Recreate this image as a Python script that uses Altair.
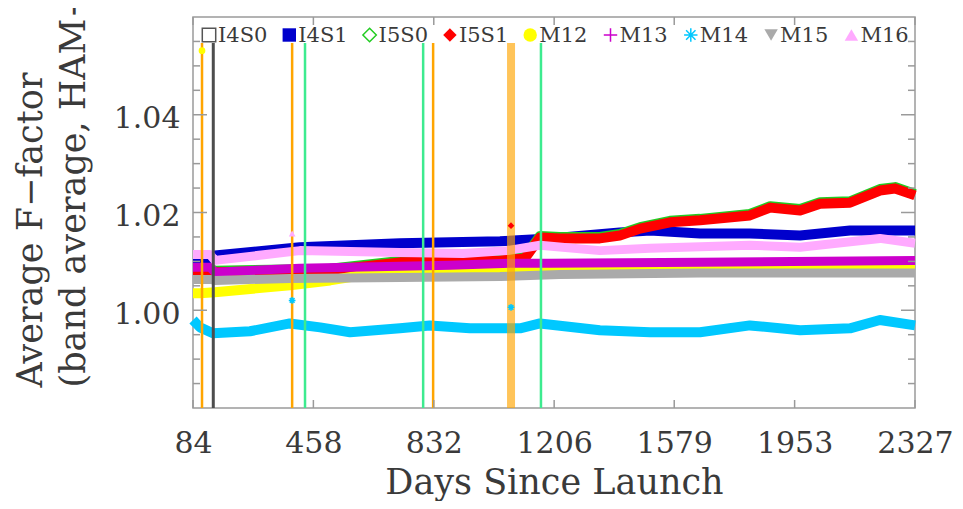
import altair as alt
import pandas as pd

W, H = 722, 391

# ---------------- data ----------------
x_ticks = [84, 458, 832, 1206, 1579, 1953, 2327]
y_ticks = [1.00, 1.02, 1.04]
y_minor = [0.985, 0.99, 0.995, 1.005, 1.01, 1.015, 1.025, 1.03, 1.035, 1.045, 1.05, 1.055]

names = ["I4S0", "I4S1", "I5S0", "I5S1", "M12", "M13", "M14", "M15", "M16"]
colors = ["#555555", "#0000CC", "#22CC22", "#FF0000", "#FFFF00", "#CC00CC", "#00C8FF", "#AAAAAA", "#FFAAFF"]

i4s1_days = [84, 137, 152, 416, 727, 1038, 1193, 1410, 1504, 1659, 1814, 1970, 2125, 2327]
i4s1_vals = [1.0098, 1.0098, 1.0112, 1.0129, 1.0137, 1.0141, 1.0147, 1.0159, 1.0163, 1.0157, 1.0157, 1.0153, 1.0163, 1.0163]

i5_days = [84, 137, 152, 510, 727, 1038, 1115, 1162, 1224, 1348, 1410, 1473, 1566, 1659, 1814, 1877, 1970, 2032, 2125, 2218, 2265, 2327]
i5s0_vals = [1.0085, 1.0085, 1.0081, 1.0085, 1.0101, 1.0105, 1.0109, 1.0152, 1.0150, 1.0150, 1.0156, 1.0170, 1.0183, 1.0187, 1.0197, 1.0213, 1.0207, 1.0221, 1.0223, 1.0248, 1.0252, 1.0238]
i5s1_vals = [1.0082, 1.0082, 1.0078, 1.0082, 1.0098, 1.0102, 1.0106, 1.0149, 1.0147, 1.0147, 1.0153, 1.0167, 1.0180, 1.0184, 1.0194, 1.0210, 1.0204, 1.0218, 1.0220, 1.0245, 1.0249, 1.0235]

m12_days = [84, 106, 152, 385, 510, 603, 727, 1038, 1348, 1970, 2327]
m12_vals = [1.0035, 1.0035, 1.0037, 1.0051, 1.0061, 1.0071, 1.0078, 1.0080, 1.0084, 1.0086, 1.0088]

m13_days = [84, 137, 152, 416, 882, 1069, 1193, 1659, 2327]
m13_vals = [1.0088, 1.0088, 1.0078, 1.0086, 1.0092, 1.0096, 1.0096, 1.0098, 1.0102]

m14_days = [84, 106, 146, 261, 385, 479, 572, 727, 820, 944, 1100, 1162, 1348, 1504, 1659, 1814, 1970, 2125, 2218, 2327]
m14_vals = [0.9980, 0.9965, 0.9953, 0.9957, 0.9973, 0.9965, 0.9955, 0.9963, 0.9969, 0.9963, 0.9963, 0.9973, 0.9959, 0.9955, 0.9955, 0.9969, 0.9959, 0.9963, 0.9980, 0.9969]

m15_days = [84, 137, 152, 385, 727, 1038, 1224, 1659, 2327]
m15_vals = [1.0063, 1.0063, 1.0061, 1.0065, 1.0067, 1.0069, 1.0073, 1.0076, 1.0076]

m16_days = [84, 137, 152, 416, 727, 923, 1059, 1162, 1348, 1504, 1814, 1970, 2218, 2327]
m16_vals = [1.0114, 1.0114, 1.0102, 1.0122, 1.0118, 1.0116, 1.0122, 1.0133, 1.0122, 1.0127, 1.0133, 1.0129, 1.0147, 1.0137]

orange_days = [112, 392, 830]
orange_band_days = [1072]
green_days = [432, 799, 1165]
dark_days = [147]

out_names = ["M12", "M16", "M14", "I5S1", "M14"]
out_days = [112, 392, 392, 1072, 1072]
out_vals = [1.0531, 1.0157, 1.0020, 1.0173, 1.0006]

# ---------------- styling ----------------
FONT = "DejaVu Serif"
TXT = "#3a3a3a"
FRAME = "#9a9a9a"

PLUS = "M-1,0L1,0M0,-1L0,1"
AST = "M-1,0L1,0M0,-1L0,1M-0.7,-0.7L0.7,0.7M-0.7,0.7L0.7,-0.7"
shapes = {"I4S0": ("square", False), "I4S1": ("square", True), "I5S0": ("diamond", False),
          "I5S1": ("diamond", True), "M12": ("circle", True), "M13": (PLUS, False),
          "M14": (AST, False), "M15": ("triangle-down", True), "M16": ("triangle-up", True)}
cmap = dict(zip(names, colors))

xscale = alt.Scale(domain=[84, 2327], nice=False, zero=False)
yscale = alt.Scale(domain=[0.98, 1.06], nice=False, zero=False)
xaxis = alt.Axis(values=x_ticks, format="d", labelFont=FONT, labelFontSize=30, labelColor=TXT,
                 tickSize=0, domain=False, grid=False, labelPadding=20, labelOverlap=False,
                 labelFlush=False, title="Days Since Launch", titleFont=FONT, titleFontSize=35,
                 titleFontWeight="normal", titleColor=TXT, titleBaseline="alphabetic", titleY=85)
yaxis = alt.Axis(values=y_ticks, format=".2f", labelFont=FONT, labelFontSize=30, labelColor=TXT,
                 tickSize=0, domain=False, grid=False, labelPadding=13, labelOverlap=False,
                 labelOffset=4, labelFlush=False,
                 title=["Average F\u2212factor", "(band average, HAM\u2212A side)"],
                 titleFont=FONT, titleFontSize=35, titleFontWeight="normal", titleColor=TXT,
                 titleAngle=270, titleAlign="left", titleBaseline="top", titleX=-180, titleY=370,
                 titleLineHeight=43)


def X():
    return alt.X("day:Q", scale=xscale, axis=xaxis)


def Y():
    return alt.Y("value:Q", scale=yscale, axis=yaxis)


layers = []

series = [("I4S1", i4s1_days, i4s1_vals, 10), ("I5S0", i5_days, i5s0_vals, 10),
          ("I5S1", i5_days, i5s1_vals, 10), ("M12", m12_days, m12_vals, 10),
          ("M13", m13_days, m13_vals, 9), ("M14", m14_days, m14_vals, 10),
          ("M15", m15_days, m15_vals, 9), ("M16", m16_days, m16_vals, 9)]
for nm, d, v, w in series:
    df = pd.DataFrame({"day": d, "value": v})
    layers.append(alt.Chart(df).mark_line(color=cmap[nm], strokeWidth=w, strokeJoin="round",
                                          strokeCap="butt").encode(x=X(), y=Y()))


def vrules(days, color, width, opacity=1.0):
    return alt.Chart(pd.DataFrame({"day": days})).mark_rule(
        color=color, strokeWidth=width, opacity=opacity).encode(
        x=X(), y=alt.value(26), y2=alt.value(H))


layers.append(vrules(orange_days, "#FFA500", 2.5))
layers.append(vrules(orange_band_days, "#FFA500", 8, 0.65))
layers.append(vrules(green_days, "#3DEB8F", 2.5))
layers.append(vrules(dark_days, "#4D4D4D", 3))

for nm, d, v in zip(out_names, out_days, out_vals):
    shp, filled = shapes[nm]
    layers.append(alt.Chart(pd.DataFrame({"day": [d], "value": [v]})).mark_point(
        shape=shp, filled=filled, color=cmap[nm], size=45, opacity=1, strokeWidth=1.5).encode(
        x=X(), y=Y()))

layers.append(alt.Chart(pd.DataFrame({"a": [0]})).mark_rect(color="white").encode(
    x=alt.value(1), x2=alt.value(W - 1), y=alt.value(1), y2=alt.value(26)))
for i, nm in enumerate(names):
    cx = 16 + i * 80.3
    shp, filled = shapes[nm]
    one = pd.DataFrame({"label": [nm]})
    layers.append(alt.Chart(one).mark_point(shape=shp, filled=filled, color=cmap[nm], size=180,
                                            opacity=1, strokeWidth=1.5).encode(
        x=alt.value(cx), y=alt.value(18)))
    layers.append(alt.Chart(one).mark_text(align="left", baseline="middle", font=FONT, fontSize=21,
                                           color=TXT).encode(
        x=alt.value(cx + 9), y=alt.value(19), text="label:N"))

xt = pd.DataFrame({"day": x_ticks})
layers.append(alt.Chart(xt).mark_rule(color=FRAME, strokeWidth=1.5).encode(
    x=X(), y=alt.value(H), y2=alt.value(H - 8)))
layers.append(alt.Chart(xt).mark_rule(color=FRAME, strokeWidth=1.5).encode(
    x=X(), y=alt.value(0), y2=alt.value(8)))
yt = pd.DataFrame({"value": y_ticks})
ym = pd.DataFrame({"value": y_minor})
for df, ln in [(yt, 14), (ym, 7)]:
    layers.append(alt.Chart(df).mark_rule(color=FRAME, strokeWidth=1.5).encode(
        y=Y(), x=alt.value(0), x2=alt.value(ln)))
    layers.append(alt.Chart(df).mark_rule(color=FRAME, strokeWidth=1.5).encode(
        y=Y(), x=alt.value(W), x2=alt.value(W - ln)))

chart = alt.layer(*layers).properties(
    width=W, height=H,
    padding={"left": 185, "top": 9, "right": 38, "bottom": 93},
    autosize=alt.AutoSizeParams(type="none"),
).configure_view(stroke=FRAME, strokeWidth=1.5)

chart.save("out.html", embed_options={"renderer": "svg", "actions": False})
